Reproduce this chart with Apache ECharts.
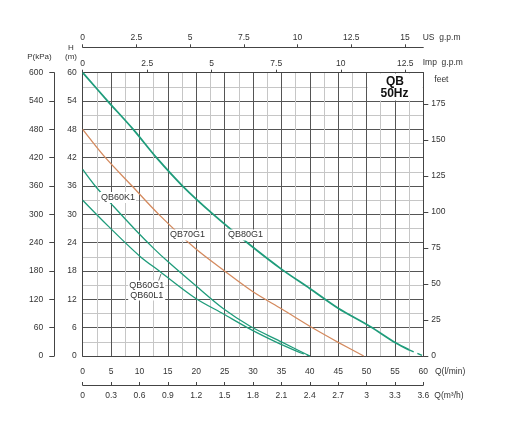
<!DOCTYPE html>
<html><head><meta charset="utf-8">
<script src="https://cdn.jsdelivr.net/npm/echarts@6/dist/echarts.min.js"></script>
<style>html,body{margin:0;padding:0;background:#fff}#c{width:512px;height:435px}</style>
</head><body><div id="c"></div>
<script>
// ---- curve data: flow Q (l/min) vs head H (m) ----
const qb80g1Q = [0, 4.4, 8.9, 13, 17.6, 23, 29.5, 35, 40, 45, 50.7, 55.1, 57.5];
const qb80g1H = [60, 54, 48, 42, 36, 30, 23.5, 18.4, 14.3, 10.1, 6.2, 2.8, 1.3];
const qb80g1TailQ = [57.5, 60];
const qb80g1TailH = [1.3, 0];

const qb70g1Q = [0, 4, 8.7, 13.4, 19.8, 25.1, 30, 35, 41, 45, 49.5];
const qb70g1H = [48, 42, 36, 30, 22.8, 17.9, 13.6, 10.0, 5.6, 2.9, 0];

const qb60k1Q = [0, 2.2, 5.5, 9.3, 12.5, 15, 20.1, 24.8, 29.5, 35, 40];
const qb60k1H = [39.5, 36, 31.6, 26.7, 22.8, 20, 14.7, 10.0, 6.3, 3.0, 0];

const qb60g1Q = [0, 4.5, 10, 13.6, 19.8, 24.8, 29.5, 34, 38.3];
const qb60g1H = [33, 27.5, 21.2, 17.9, 12.3, 8.9, 5.7, 3.0, 0.7];
const qb60g1TailQ = [38.3, 40];
const qb60g1TailH = [0.7, 0];

// ---- tick labels ----
const ticksLmin = [0,5,10,15,20,25,30,35,40,45,50,55,60];
const ticksM3h = [0,0.3,0.6,0.9,1.2,1.5,1.8,2.1,2.4,2.7,3,3.3,3.6];
const ticksImp = [0,2.5,5,7.5,10,12.5];
const ticksUS = [0,2.5,5,7.5,10,12.5,15];
const ticksH = [0,6,12,18,24,30,36,42,48,54,60];
const ticksP = [0,60,120,180,240,300,360,420,480,540,600];
const ticksFeet = [0,25,50,75,100,125,150,175];

const GREEN = '#1f9c7b', ORANGE = '#d48a5e';
const FONT = 'Liberation Sans';
const lbl = {fontSize: 8.5, color: '#333', fontFamily: FONT};
const zip = (a, b) => a.map((v, i) => [v, b[i]]);

const chart = echarts.init(document.getElementById('c'), null, {renderer: 'canvas'});
const axLine = {show: true, onZero: false, lineStyle: {color: '#444', width: 1}};

chart.setOption({
  animation: false,
  backgroundColor: '#fff',
  grid: {left: 82.7, right: 88.7, top: 72.7, bottom: 79, containLabel: false},
  xAxis: [
    {type: 'value', position: 'bottom', min: 0, max: 60, interval: 5,
     axisLine: axLine, axisTick: {show: false},
     axisLabel: Object.assign({margin: 11, customValues: ticksLmin}, lbl),
     splitLine: {show: true, lineStyle: {color: '#555', width: 1}},
     minorTick: {show: false, splitNumber: 2},
     minorSplitLine: {show: true, lineStyle: {color: '#c6c6c6', width: 1}}},
    {type: 'value', position: 'bottom', offset: 29, min: 0, max: 3.6,
     axisLine: axLine,
     axisTick: {show: true, inside: true, length: 3, customValues: ticksM3h, lineStyle: {color: '#444'}},
     axisLabel: Object.assign({margin: 6, customValues: ticksM3h, formatter: v => String(+(+v).toFixed(2))}, lbl),
     splitLine: {show: false}},
    {type: 'value', position: 'top', offset: 0, min: 0, max: 60 / 4.546,
     axisLine: axLine,
     axisTick: {show: true, length: 3, customValues: ticksImp, lineStyle: {color: '#444'}},
     axisLabel: Object.assign({margin: 5, customValues: ticksImp}, lbl),
     splitLine: {show: false}},
    {type: 'value', position: 'top', offset: 25.4, min: 0, max: 60 / 3.785,
     axisLine: axLine,
     axisTick: {show: true, length: 3, customValues: ticksUS, lineStyle: {color: '#444'}},
     axisLabel: Object.assign({margin: 5, customValues: ticksUS}, lbl),
     splitLine: {show: false}}
  ],
  yAxis: [
    {type: 'value', position: 'left', min: 0, max: 60, interval: 6,
     axisLine: axLine, axisTick: {show: false},
     axisLabel: Object.assign({margin: 6, customValues: ticksH}, lbl),
     splitLine: {show: true, lineStyle: {color: '#555', width: 1}},
     minorTick: {show: false, splitNumber: 2},
     minorSplitLine: {show: true, lineStyle: {color: '#c6c6c6', width: 1}}},
    {type: 'value', position: 'left', offset: 28.4, min: 0, max: 600,
     axisLine: axLine,
     axisTick: {show: true, length: 5, customValues: ticksP, lineStyle: {color: '#444'}},
     axisLabel: Object.assign({margin: 11, customValues: ticksP}, lbl),
     splitLine: {show: false}},
    {type: 'value', position: 'right', offset: 0, min: 0, max: 60 / 0.3048,
     axisLine: axLine,
     axisTick: {show: true, length: 5, customValues: ticksFeet, lineStyle: {color: '#444'}},
     axisLabel: Object.assign({margin: 8, customValues: ticksFeet}, lbl),
     splitLine: {show: false}}
  ],
  series: [
    {name: 'QB80G1', type: 'line', smooth: 0.3, showSymbol: false, data: zip(qb80g1Q, qb80g1H),
     lineStyle: {color: GREEN, width: 1.8}},
    {name: 'QB80G1 tail', type: 'line', showSymbol: false, data: zip(qb80g1TailQ, qb80g1TailH),
     lineStyle: {color: GREEN, width: 1.5, type: [5, 4]}},
    {name: 'QB70G1', type: 'line', smooth: 0.3, showSymbol: false, data: zip(qb70g1Q, qb70g1H),
     lineStyle: {color: ORANGE, width: 1.3}},
    {name: 'QB60K1', type: 'line', smooth: 0.3, showSymbol: false, data: zip(qb60k1Q, qb60k1H),
     lineStyle: {color: GREEN, width: 1.3}},
    {name: 'QB60G1', type: 'line', smooth: 0.3, showSymbol: false, data: zip(qb60g1Q, qb60g1H),
     lineStyle: {color: GREEN, width: 1.3}},
    {name: 'QB60G1 tail', type: 'line', showSymbol: false, data: zip(qb60g1TailQ, qb60g1TailH),
     lineStyle: {color: GREEN, width: 1.3, type: [4, 3]}}
  ],
  graphic: {elements: [
    {type: 'text', z: 100, x: 39.5, y: 57, style: {text: 'P(kPa)', fontSize: 8, fontFamily: FONT, fill: '#333', align: 'center', verticalAlign: 'middle', textAlign: 'center', textVerticalAlign: 'middle'}},
    {type: 'text', z: 100, x: 71, y: 47.5, style: {text: 'H', fontSize: 8, fontFamily: FONT, fill: '#333', align: 'center', verticalAlign: 'middle', textAlign: 'center', textVerticalAlign: 'middle'}},
    {type: 'text', z: 100, x: 71, y: 57, style: {text: '(m)', fontSize: 8, fontFamily: FONT, fill: '#333', align: 'center', verticalAlign: 'middle', textAlign: 'center', textVerticalAlign: 'middle'}},
    {type: 'text', z: 100, x: 422.7, y: 38, style: {text: 'US  g.p.m', fontSize: 8.5, fontFamily: FONT, fill: '#333', align: 'left', verticalAlign: 'middle', textAlign: 'left', textVerticalAlign: 'middle'}},
    {type: 'text', z: 100, x: 422.7, y: 62.3, style: {text: 'Imp  g.p.m', fontSize: 8.5, fontFamily: FONT, fill: '#333', align: 'left', verticalAlign: 'middle', textAlign: 'left', textVerticalAlign: 'middle'}},
    {type: 'text', z: 100, x: 434.3, y: 80, style: {text: 'feet', fontSize: 8.5, fontFamily: FONT, fill: '#333', align: 'left', verticalAlign: 'middle', textAlign: 'left', textVerticalAlign: 'middle'}},
    {type: 'text', z: 100, x: 435, y: 371.7, style: {text: 'Q(l/min)', fontSize: 8.5, fontFamily: FONT, fill: '#333', align: 'left', verticalAlign: 'middle', textAlign: 'left', textVerticalAlign: 'middle'}},
    {type: 'text', z: 100, x: 434.3, y: 395.7, style: {text: 'Q(m³/h)', fontSize: 8.5, fontFamily: FONT, fill: '#333', align: 'left', verticalAlign: 'middle', textAlign: 'left', textVerticalAlign: 'middle'}},
    {type: 'rect', z: 100, shape: {x: 367.6, y: 73.4, width: 55, height: 27}, style: {fill: '#fff'}},
    {type: 'text', z: 101, x: 395, y: 81.5, style: {text: 'QB', fontSize: 12, fontWeight: 'bold', fontFamily: FONT, fill: '#111', align: 'center', verticalAlign: 'middle', textAlign: 'center', textVerticalAlign: 'middle'}},
    {type: 'text', z: 101, x: 394.5, y: 93.5, style: {text: '50Hz', fontSize: 12, fontWeight: 'bold', fontFamily: FONT, fill: '#111', align: 'center', verticalAlign: 'middle', textAlign: 'center', textVerticalAlign: 'middle'}},
    {type: 'text', z: 100, x: 118, y: 197.5, style: {text: 'QB60K1', fontSize: 9, fontFamily: FONT, fill: '#333', backgroundColor: '#fff', padding: [1, 1], align: 'center', verticalAlign: 'middle', textAlign: 'center', textVerticalAlign: 'middle'}},
    {type: 'text', z: 100, x: 187.5, y: 235, style: {text: 'QB70G1', fontSize: 9, fontFamily: FONT, fill: '#333', backgroundColor: '#fff', padding: [1, 1], align: 'center', verticalAlign: 'middle', textAlign: 'center', textVerticalAlign: 'middle'}},
    {type: 'text', z: 100, x: 245.5, y: 235, style: {text: 'QB80G1', fontSize: 9, fontFamily: FONT, fill: '#333', backgroundColor: '#fff', padding: [1, 1], align: 'center', verticalAlign: 'middle', textAlign: 'center', textVerticalAlign: 'middle'}},
    {type: 'line', z: 100, shape: {x1: 158.5, y1: 281, x2: 161, y2: 274}, style: {stroke: '#555', lineWidth: 0.8}},
    {type: 'text', z: 100, x: 146.7, y: 290.5, style: {text: 'QB60G1\nQB60L1', fontSize: 9, lineHeight: 10, fontFamily: FONT, fill: '#333', backgroundColor: '#fff', padding: [0, 1], align: 'center', verticalAlign: 'middle', textAlign: 'center', textVerticalAlign: 'middle'}}
  ]}
});
</script>
</body></html>
